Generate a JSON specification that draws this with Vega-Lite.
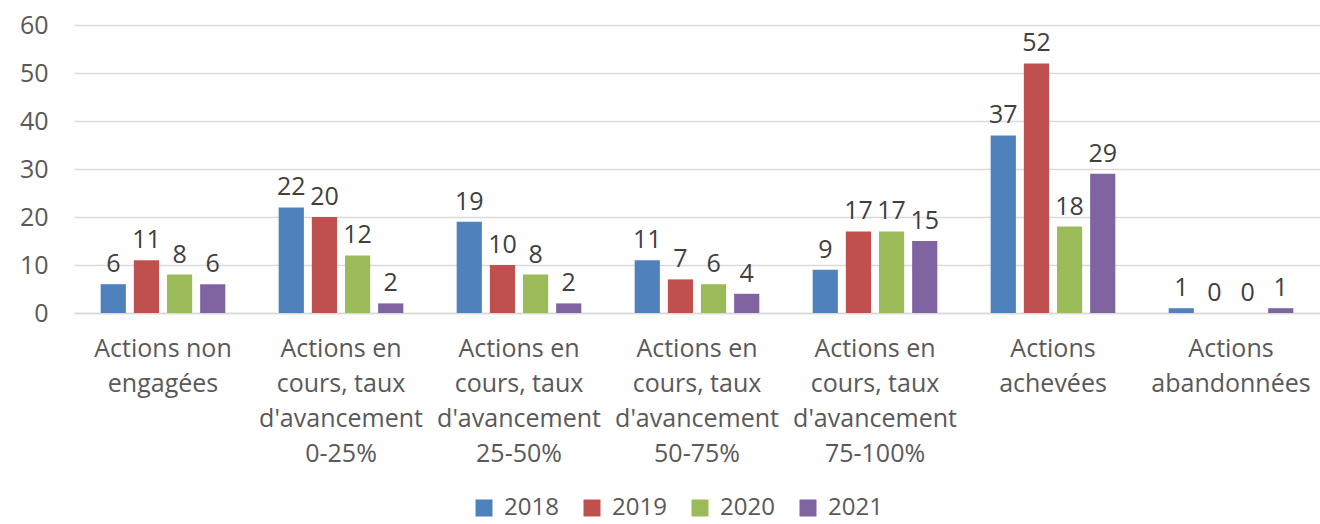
{
  "$schema": "https://vega.github.io/schema/vega-lite/v6.json",
  "width": 1246,
  "height": 288,
  "autosize": "none",
  "padding": {"left": 74, "top": 25, "right": 0, "bottom": 211},
  "background": "white",
  "config": {
    "font": "Open Sans",
    "view": {"stroke": null}
  },
  "data": {
    "values": [
      {"categorie": "Actions non engagées", "annee": "2018", "nombre": 6},
      {"categorie": "Actions non engagées", "annee": "2019", "nombre": 11},
      {"categorie": "Actions non engagées", "annee": "2020", "nombre": 8},
      {"categorie": "Actions non engagées", "annee": "2021", "nombre": 6},
      {"categorie": "Actions en cours, taux d'avancement 0-25%", "annee": "2018", "nombre": 22},
      {"categorie": "Actions en cours, taux d'avancement 0-25%", "annee": "2019", "nombre": 20},
      {"categorie": "Actions en cours, taux d'avancement 0-25%", "annee": "2020", "nombre": 12},
      {"categorie": "Actions en cours, taux d'avancement 0-25%", "annee": "2021", "nombre": 2},
      {"categorie": "Actions en cours, taux d'avancement 25-50%", "annee": "2018", "nombre": 19},
      {"categorie": "Actions en cours, taux d'avancement 25-50%", "annee": "2019", "nombre": 10},
      {"categorie": "Actions en cours, taux d'avancement 25-50%", "annee": "2020", "nombre": 8},
      {"categorie": "Actions en cours, taux d'avancement 25-50%", "annee": "2021", "nombre": 2},
      {"categorie": "Actions en cours, taux d'avancement 50-75%", "annee": "2018", "nombre": 11},
      {"categorie": "Actions en cours, taux d'avancement 50-75%", "annee": "2019", "nombre": 7},
      {"categorie": "Actions en cours, taux d'avancement 50-75%", "annee": "2020", "nombre": 6},
      {"categorie": "Actions en cours, taux d'avancement 50-75%", "annee": "2021", "nombre": 4},
      {"categorie": "Actions en cours, taux d'avancement 75-100%", "annee": "2018", "nombre": 9},
      {"categorie": "Actions en cours, taux d'avancement 75-100%", "annee": "2019", "nombre": 17},
      {"categorie": "Actions en cours, taux d'avancement 75-100%", "annee": "2020", "nombre": 17},
      {"categorie": "Actions en cours, taux d'avancement 75-100%", "annee": "2021", "nombre": 15},
      {"categorie": "Actions achevées", "annee": "2018", "nombre": 37},
      {"categorie": "Actions achevées", "annee": "2019", "nombre": 52},
      {"categorie": "Actions achevées", "annee": "2020", "nombre": 18},
      {"categorie": "Actions achevées", "annee": "2021", "nombre": 29},
      {"categorie": "Actions abandonnées", "annee": "2018", "nombre": 1},
      {"categorie": "Actions abandonnées", "annee": "2019", "nombre": 0},
      {"categorie": "Actions abandonnées", "annee": "2020", "nombre": 0},
      {"categorie": "Actions abandonnées", "annee": "2021", "nombre": 1}
    ]
  },
  "encoding": {
    "x": {
      "field": "categorie",
      "type": "nominal",
      "sort": null,
      "title": null,
      "scale": {"paddingInner": 0.27, "paddingOuter": 0.135},
      "axis": {
        "labelAngle": 0,
        "labelFontSize": 25,
        "labelColor": "#595959",
        "labelPadding": 23,
        "labelLineHeight": 35,
        "labelBaseline": "top",
        "labelLimit": 300,
        "ticks": false,
        "domain": true,
        "domainColor": "#d9d9d9",
        "domainWidth": 1.5,
        "labelExpr": "indexof(datum.label,'cours')>=0 ? ['Actions en','cours, taux',\"d'avancement\", split(datum.label,' ')[5]] : datum.label=='Actions non engagées' ? ['Actions non','engagées'] : split(datum.label,' ')"
      }
    },
    "xOffset": {
      "field": "annee",
      "type": "nominal",
      "scale": {"paddingInner": 0.24, "paddingOuter": 0.08}
    },
    "y": {
      "field": "nombre",
      "type": "quantitative",
      "title": null,
      "scale": {"domain": [0, 60], "nice": false},
      "axis": {
        "values": [0, 10, 20, 30, 40, 50, 60],
        "labelFontSize": 25,
        "labelColor": "#595959",
        "labelPadding": 26,
        "ticks": false,
        "domain": false,
        "gridColor": "#d9d9d9",
        "gridWidth": 1.5
      }
    }
  },
  "layer": [
    {
      "mark": {"type": "bar"},
      "encoding": {
        "color": {
          "field": "annee",
          "type": "nominal",
          "title": null,
          "scale": {
            "domain": ["2018", "2019", "2020", "2021"],
            "range": ["#4F81BD", "#C0504D", "#9BBB59", "#8064A2"]
          },
          "legend": {
            "orient": "none",
            "direction": "horizontal",
            "legendX": 398,
            "legendY": 471,
            "padding": 0,
            "symbolType": "square",
            "symbolSize": 289,
            "symbolStrokeWidth": 0,
            "labelFontSize": 24,
            "labelColor": "#595959",
            "labelOffset": 8,
            "columnPadding": 21
          }
        }
      }
    },
    {
      "mark": {"type": "text", "baseline": "bottom", "dy": -7, "fontSize": 25, "color": "#404040"},
      "encoding": {
        "text": {"field": "nombre", "type": "quantitative"}
      }
    }
  ]
}
